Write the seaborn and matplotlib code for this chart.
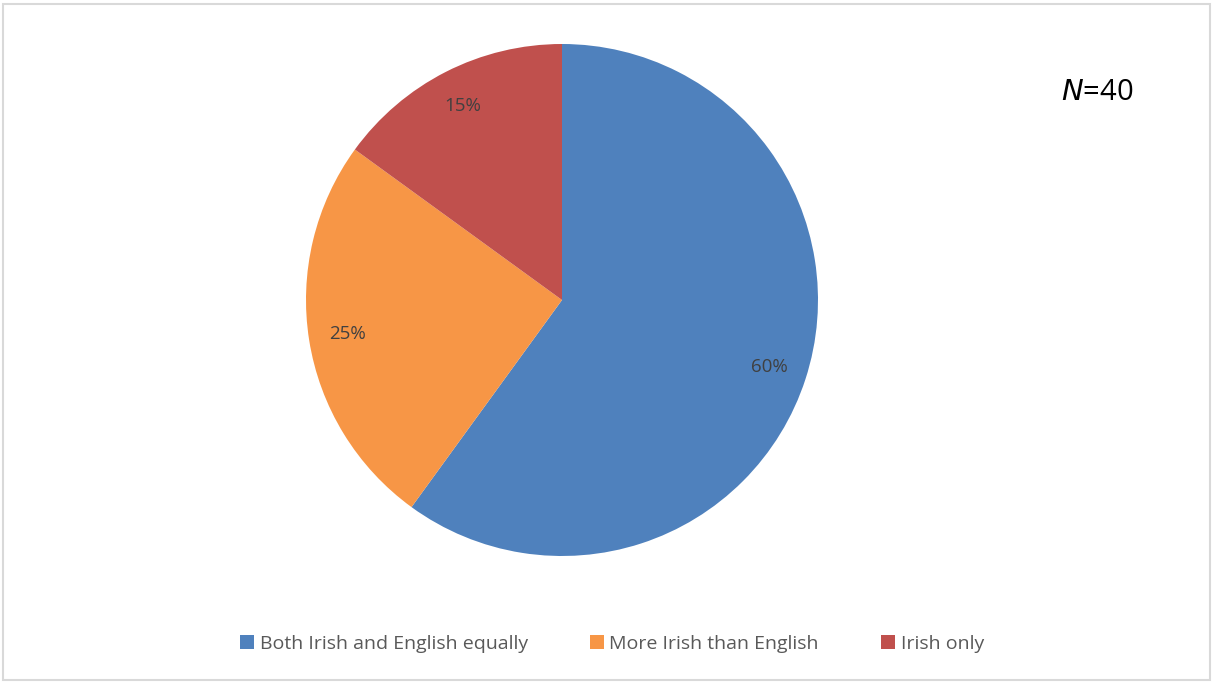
import matplotlib
matplotlib.use("Agg")
import matplotlib.pyplot as plt
import matplotlib.patches as mpatches
import seaborn as sns

# data
categories = ['Both Irish and English equally', 'More Irish than English', 'Irish only']
shares = [60, 25, 15]
colors = ['#4F81BD', '#F79646', '#C0504D']
n_total = 40

sns.set_theme(style="white")
plt.rcParams['font.family'] = ['Open Sans', 'DejaVu Sans']

fig = plt.figure(figsize=(12.13, 6.82), dpi=100)

# pie axes: centre (562, 300) px, radius 256 px
ax = fig.add_axes([306 / 1213, (682 - 556) / 682, 512 / 1213, 512 / 682])
wedges, texts, autotexts = ax.pie(
    shares, colors=colors, startangle=90, counterclock=False,
    autopct='%1.0f%%', pctdistance=0.85, radius=1.0,
    wedgeprops=dict(linewidth=0),
    textprops=dict(color='#404040', fontsize=13.5))
ax.set_xlim(-1, 1)
ax.set_ylim(-1, 1)
ax.set_aspect('equal')
ax.axis('off')

# N label
fig.text(1097 / 1213, (682 - 92) / 682, r'$\it{N}$=' + str(n_total),
         fontsize=21, color='black', ha='center', va='center')

# legend
handles = [mpatches.Patch(facecolor=c, edgecolor='none', label=l) for c, l in zip(colors, categories)]
leg = fig.legend(handles=handles, loc='center', bbox_to_anchor=(612 / 1213, (682 - 644) / 682),
                 ncol=3, frameon=False, fontsize=14, handlelength=0.7, handleheight=0.7,
                 handletextpad=0.3, columnspacing=3.2)
for t in leg.get_texts():
    t.set_color('#595959')

# outer border
fig.patches.append(mpatches.Rectangle((3 / 1213, 2 / 682), 1207 / 1213, 676 / 682,
                                      transform=fig.transFigure, fill=False,
                                      edgecolor='#D9D9D9', linewidth=1.5))

fig.savefig('out.png', dpi=100, facecolor='white')
